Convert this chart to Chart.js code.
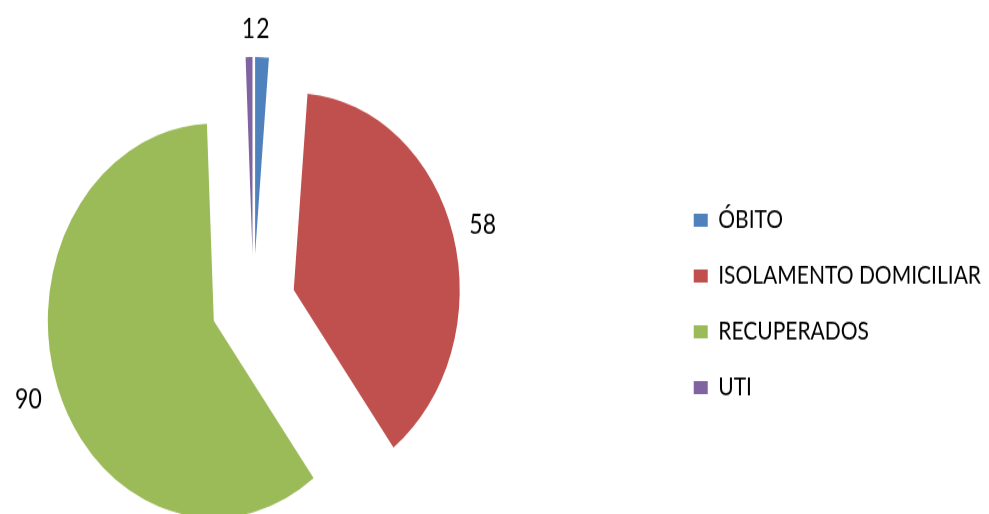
<!DOCTYPE html>
<html>
<head>
<meta charset="utf-8">
<script src="https://cdn.jsdelivr.net/npm/chart.js@4.4.1/dist/chart.umd.min.js"></script>
<style>
  html, body { margin: 0; padding: 0; background: #ffffff; overflow: hidden; width: 989px; height: 514px; }
  #wrap { position: absolute; left: 0; top: 0; width: 989px; height: 433px;
          transform-origin: 0 0; transform: scaleY(1.18707); }
</style>
</head>
<body>
<div id="wrap"><canvas id="c"></canvas></div>
<script>
// ---- data ----
const categories = ['ÓBITO', 'ISOLAMENTO DOMICILIAR', 'RECUPERADOS', 'UTI'];
const values = [2, 58, 90, 1];
const colors = ['#4F81BD', '#C0504D', '#9BBB59', '#8064A2'];

// ---- layout constants ----
const H = 433;
const CX = 253, CY = 256;      // pie centre in page x / unstretched y
const R = 166;                 // pie radius
const EXPLODE = 42;            // explosion distance of every slice
const LEG_FS = 21, LEG_PAD = 26, BOX_W = 14, BOX_H = 11;
const TEXT_END = 980;          // right end of the longest legend label (page x)
const LABEL_FS = 23, LABEL_GAP = 15.5;
const FONT = 'Lato';

// measure legend text so the chart area centre lands on CX
const mctx = document.createElement('canvas').getContext('2d');
mctx.font = LEG_FS + 'px ' + FONT;
const maxTextW = Math.max(...categories.map(t => mctx.measureText(t).width));
const legendLeft = TEXT_END - maxTextW - LEG_FS / 2 - BOX_W - LEG_PAD;
const canvasRight = TEXT_END + LEG_FS / 2;       // legend box keeps ~fontSize/2 after the text
const SHIFT = Math.round(legendLeft - 2 * CX);
const wrap = document.getElementById('wrap');
wrap.style.left = (-SHIFT) + 'px';
wrap.style.width = Math.round(canvasRight + SHIFT) + 'px';
const padTop = Math.max(2 * CY - H, 0);
const padBottom = Math.max(H - 2 * CY, 0);

// explode every slice outward by the same distance (Excel style)
const explodeSlices = {
  id: 'explodeSlices',
  beforeDatasetsDraw(chart) {
    const a = chart.chartArea;
    const cx = (a.left + a.right) / 2, cy = (a.top + a.bottom) / 2;
    chart.getDatasetMeta(0).data.forEach(arc => {
      const mid = (arc.startAngle + arc.endAngle) / 2;
      arc.x = cx + Math.cos(mid) * EXPLODE;
      arc.y = cy + Math.sin(mid) * EXPLODE;
    });
  }
};

const valueLabels = {
  id: 'valueLabels',
  afterDatasetsDraw(chart) {
    const ctx = chart.ctx;
    const meta = chart.getDatasetMeta(0);
    ctx.save();
    ctx.font = LABEL_FS + 'px ' + FONT;
    ctx.fillStyle = '#000000';
    ctx.textAlign = 'center';
    ctx.textBaseline = 'middle';
    meta.data.forEach((arc, i) => {
      const mid = (arc.startAngle + arc.endAngle) / 2;
      const txt = String(values[i]);
      const w = ctx.measureText(txt).width, h = LABEL_FS * 0.72;
      const dx = Math.cos(mid), dy = Math.sin(mid);
      const ext = Math.abs(dx) * w / 2 + Math.abs(dy) * h / 2;
      const d = arc.outerRadius + LABEL_GAP + ext;
      ctx.fillText(txt, arc.x + dx * d, arc.y + dy * d);
    });
    ctx.restore();
  }
};

new Chart(document.getElementById('c'), {
  type: 'pie',
  data: {
    labels: categories,
    datasets: [{
      data: values,
      backgroundColor: colors,
      borderWidth: 0,
      offset: 0,
      hoverOffset: 0
    }]
  },
  options: {
    responsive: true,
    maintainAspectRatio: false,
    animation: false,
    events: [],
    radius: R,
    layout: { padding: { left: 0, right: 0, top: padTop, bottom: padBottom } },
    plugins: {
      tooltip: { enabled: false },
      legend: {
        position: 'right',
        align: 'center',
        labels: {
          boxWidth: BOX_W,
          boxHeight: BOX_H,
          padding: LEG_PAD,
          color: '#000000',
          font: { family: FONT, size: LEG_FS }
        }
      }
    }
  },
  plugins: [explodeSlices, valueLabels]
});
</script>
</body>
</html>
